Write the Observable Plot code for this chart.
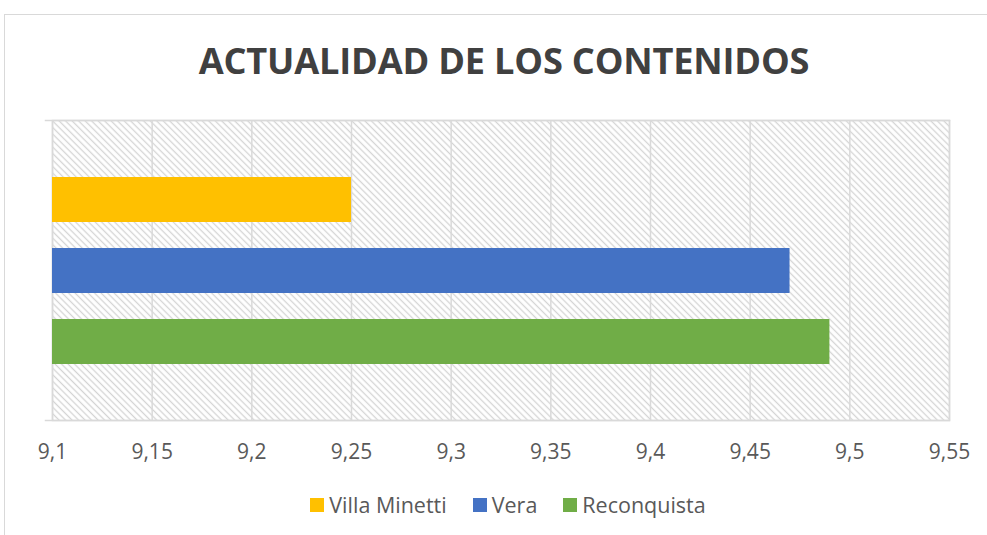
<!DOCTYPE html>
<html>
<head>
<meta charset="utf-8">
<script src="https://cdn.jsdelivr.net/npm/d3@7"></script>
<script src="https://cdn.jsdelivr.net/npm/@observablehq/plot@0.6"></script>
<style>
  html, body { margin: 0; padding: 0; background: #fff; }
  #wrap { position: relative; width: 987px; height: 535px; overflow: hidden; font-family: "Open Sans", sans-serif; }
  #border { position: absolute; left: 4px; top: 14px; width: 1000px; height: 600px; border: 1px solid #d9d9d9; box-sizing: border-box; }
  #title { position: absolute; left: 0; width: 1008px; top: 35px; text-align: center; font-size: 36.2px; font-weight: bold; color: #404040; letter-spacing: -0.2px; }
  #chart { position: absolute; left: 0; top: 0; }
  #legend { position: absolute; left: 0; width: 1016px; top: 490px; display: flex; justify-content: center; font-size: 21.5px; color: #595959; }
  .item { display: flex; align-items: center; margin: 0 13px; }
  .sw { width: 14px; height: 14px; margin-right: 5px; }
</style>
</head>
<body>
<div id="wrap">
  <div id="border"></div>
  <div id="chart"></div>
  <div id="title">ACTUALIDAD DE LOS CONTENIDOS</div>
  <div id="legend"></div>
</div>
<script>
const categories = ["Villa Minetti", "Vera", "Reconquista"];
const values = [9.25, 9.47, 9.49];
const colors = ["#FFC000", "#4472C4", "#70AD47"];
const xTicks = [9.1, 9.15, 9.2, 9.25, 9.3, 9.35, 9.4, 9.45, 9.5, 9.55];
const chartTitle = "ACTUALIDAD DE LOS CONTENIDOS";

const data = categories.map((c, i) => ({ name: c, value: values[i] }));
const fmt = d => String(d).replace(".", ",");
const grid = "#d9d9d9";

const plot = Plot.plot({
  width: 987,
  height: 480,
  marginLeft: 52,
  marginRight: 38,
  marginTop: 120,
  marginBottom: 60,
  style: { fontFamily: "'Open Sans', sans-serif", fontSize: "21px", color: "#595959", background: "transparent", overflow: "visible" },
  x: { domain: [9.1, 9.55], ticks: xTicks, tickFormat: fmt, label: null },
  y: { domain: categories, paddingInner: 0.37, paddingOuter: 0.783, label: null, axis: null },
  color: { domain: categories, range: colors },
  marks: [
    Plot.frame({ fill: "url(#hatch)", stroke: null }),
    Plot.gridX(xTicks, { stroke: grid, strokeOpacity: 1, strokeWidth: 1.5 }),
    Plot.frame({ stroke: grid, strokeWidth: 1.5 }),
    Plot.frame({ anchor: "top", insetLeft: -7, stroke: grid, strokeWidth: 1.5 }),
    Plot.frame({ anchor: "bottom", insetLeft: -7, stroke: grid, strokeWidth: 1.5 }),
    Plot.barX(data, { x1: 9.1, x2: "value", y: "name", fill: "name" }),
    Plot.axisX(xTicks, { tickSize: 0, tickPadding: 24, tickFormat: fmt, fill: "#595959", fontSize: 21, label: null })
  ]
});

const defs = d3.create("svg:defs");
const pat = defs.append("pattern")
  .attr("id", "hatch")
  .attr("patternUnits", "userSpaceOnUse")
  .attr("width", 4.6).attr("height", 4.6)
  .attr("patternTransform", "rotate(45)");
pat.append("rect").attr("width", 4.6).attr("height", 4.6).attr("fill", "#fff");
pat.append("line").attr("x1", 0).attr("y1", 2.3).attr("x2", 4.6).attr("y2", 2.3)
  .attr("stroke", "#d4d4d4").attr("stroke-width", 1.3);
plot.insertBefore(defs.node(), plot.firstChild);

document.getElementById("chart").appendChild(plot);
document.getElementById("title").textContent = chartTitle;

const legend = document.getElementById("legend");
categories.forEach((c, i) => {
  const it = document.createElement("div");
  it.className = "item";
  const sw = document.createElement("div");
  sw.className = "sw";
  sw.style.background = colors[i];
  const t = document.createElement("span");
  t.textContent = c;
  it.appendChild(sw); it.appendChild(t);
  legend.appendChild(it);
});
</script>
</body>
</html>
